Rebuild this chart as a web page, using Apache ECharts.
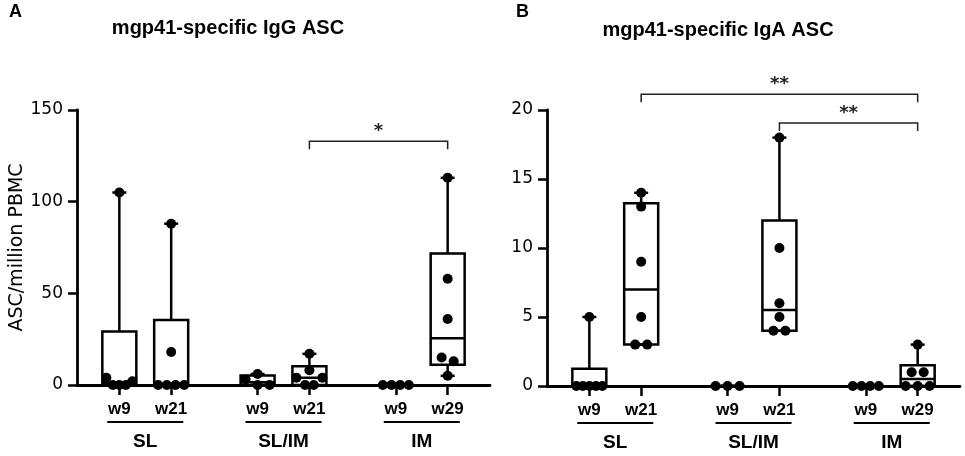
<!DOCTYPE html>
<html>
<head>
<meta charset="utf-8">
<script src="https://cdn.jsdelivr.net/npm/echarts@6/dist/echarts.min.js"></script>
<style>html,body{margin:0;padding:0;background:#fff;}#c{width:965px;height:456px;}</style>
</head>
<body>
<div id="c"></div>
<script>
// ---- data ----
const groupNames = ['SL', 'SL/IM', 'IM'];
const timeLabels = ['w9', 'w21', 'w9', 'w21', 'w9', 'w29'];

// IgG ASC per million PBMC (panel A)
const igG_SL_w9    = [0, 0, 0, 2, 4, 105];
const igG_SL_w21   = [0, 0, 0, 0, 18, 88];
const igG_SLIM_w9  = [0, 0, 3, 6];
const igG_SLIM_w21 = [0, 0, 4, 4, 8, 17];
const igG_IM_w9    = [0, 0, 0, 0];
const igG_IM_w29   = [5, 13, 15, 36, 58, 113];

// IgA ASC per million PBMC (panel B)
const igA_SL_w9    = [0, 0, 0, 0, 0, 5];
const igA_SL_w21   = [3, 3, 5, 9, 13, 14];
const igA_SLIM_w9  = [0, 0, 0];
const igA_SLIM_w21 = [4, 4, 5, 6, 10, 18];
const igA_IM_w9    = [0, 0, 0, 0];
const igA_IM_w29   = [0, 0, 0, 1, 1, 3];

// y-axis ticks
const yTicksA = [0, 50, 100, 150];
const yTicksB = [0, 5, 10, 15, 20];

// significance brackets: [fromGroup, fromTime, toGroup, toTime, height, text]
const bracketsA = [[1, 1, 2, 1, 133, '*']];
const bracketsB = [[0, 1, 2, 1, 21.15, '**'], [1, 1, 2, 1, 19.05, '**']];

// ---- helpers ----
const setsA = [igG_SL_w9, igG_SL_w21, igG_SLIM_w9, igG_SLIM_w21, igG_IM_w9, igG_IM_w29];
const setsB = [igA_SL_w9, igA_SL_w21, igA_SLIM_w9, igA_SLIM_w21, igA_IM_w9, igA_IM_w29];
const xPos = (g, t) => g * 8 + t * 3;
const tickPositions = [];
for (let g = 0; g < 3; g++) for (let t = 0; t < 2; t++) tickPositions.push(xPos(g, t));

function pct(sorted, p) {
  const n = sorted.length;
  const pos = p * (n + 1);
  if (pos <= 1) return sorted[0];
  if (pos >= n) return sorted[n - 1];
  const lo = Math.floor(pos);
  const f = pos - lo;
  return sorted[lo - 1] + f * (sorted[lo] - sorted[lo - 1]);
}
function stats(vals) {
  const s = vals.slice().sort((a, b) => a - b);
  return { min: s[0], q1: pct(s, 0.25), med: pct(s, 0.5), q3: pct(s, 0.75), max: s[s.length - 1] };
}

const FONT_AX = '"DejaVu Sans", sans-serif';
const FONT_B = '"Liberation Sans", sans-serif';
const LW = 2.5;

function boxSeries(sets, gi) {
  return {
    type: 'custom', xAxisIndex: gi, yAxisIndex: gi, clip: false, silent: true,
    data: sets.map((s, i) => [xPos(Math.floor(i / 2), i % 2), Math.max.apply(null, s)]),
    encode: { x: 0, y: 1 },
    renderItem: function (params, api) {
      const i = params.dataIndex;
      const xp = xPos(Math.floor(i / 2), i % 2);
      const st = stats(sets[i]);
      const P = v => api.coord([xp, v]);
      const cx = P(0)[0];
      const yMin = P(st.min)[1], yQ1 = P(st.q1)[1], yMed = P(st.med)[1], yQ3 = P(st.q3)[1], yMax = P(st.max)[1];
      const bw = 34, cap = 14;
      const ls = { stroke: '#000', lineWidth: LW, fill: 'none' };
      const ch = [];
      ch.push({ type: 'line', shape: { x1: cx, y1: yQ3, x2: cx, y2: yMax }, style: ls });
      ch.push({ type: 'line', shape: { x1: cx, y1: yQ1, x2: cx, y2: yMin }, style: ls });
      ch.push({ type: 'line', shape: { x1: cx - cap / 2, y1: yMax, x2: cx + cap / 2, y2: yMax }, style: ls });
      ch.push({ type: 'line', shape: { x1: cx - cap / 2, y1: yMin, x2: cx + cap / 2, y2: yMin }, style: ls });
      ch.push({ type: 'rect', shape: { x: cx - bw / 2, y: yQ3, width: bw, height: Math.max(0, yQ1 - yQ3) }, style: ls });
      ch.push({ type: 'line', shape: { x1: cx - bw / 2, y1: yMed, x2: cx + bw / 2, y2: yMed }, style: ls });
      // beeswarm-like dots
      const pts = sets[i].slice().sort((a, b) => a - b).map(v => ({ v: v, y: P(v)[1] }));
      const clusters = [];
      pts.forEach(p => {
        const last = clusters[clusters.length - 1];
        if (last && Math.abs(last[0].y - p.y) < 8) last.push(p); else clusters.push([p]);
      });
      clusters.forEach(cl => {
        const k = cl.length;
        const sp = k > 1 ? Math.min(12, 26 / (k - 1)) : 0;
        const desc = cl.slice().sort((a, b) => b.v - a.v);
        const slots = [];
        let l = 0, r = k - 1, left = true;
        while (l <= r) { if (left) slots.push(l++); else slots.push(r--); left = !left; }
        desc.forEach((p, j) => {
          const off = (slots[j] - (k - 1) / 2) * sp;
          ch.push({ type: 'circle', shape: { cx: cx + off, cy: p.y, r: 5 }, style: { fill: '#000' } });
        });
      });
      return { type: 'group', children: ch };
    }
  };
}

function groupSeries(gi) {
  return {
    type: 'custom', xAxisIndex: gi, yAxisIndex: gi, clip: false, silent: true,
    data: groupNames.map((n, g) => [xPos(g, 0), 0]),
    encode: { x: 0, y: 1 },
    renderItem: function (params, api) {
      const g = params.dataIndex;
      const a = api.coord([xPos(g, 0), 0]);
      const b = api.coord([xPos(g, 1), 0]);
      const c = (a[0] + b[0]) / 2;
      return {
        type: 'group', children: [
          { type: 'line', shape: { x1: c - 38, y1: a[1] + 37, x2: c + 38, y2: a[1] + 37 }, style: { stroke: '#000', lineWidth: 2 } },
          { type: 'text', style: { text: groupNames[g], x: c, y: a[1] + 57, font: 'bold 19px ' + FONT_B, fill: '#000', align: 'center', verticalAlign: 'middle', textAlign: 'center', textVerticalAlign: 'middle' } }
        ]
      };
    }
  };
}

function bracketSeries(brs, gi) {
  return {
    type: 'custom', xAxisIndex: gi, yAxisIndex: gi, clip: false, silent: true,
    data: brs.map(b => [xPos(b[0], b[1]), b[4]]),
    encode: { x: 0, y: 1 },
    renderItem: function (params, api) {
      const b = brs[params.dataIndex];
      const p1 = api.coord([xPos(b[0], b[1]), b[4]]);
      const p2 = api.coord([xPos(b[2], b[3]), b[4]]);
      const st = { stroke: '#222', lineWidth: 1.5, fill: 'none' };
      return {
        type: 'group', children: [
          { type: 'polyline', shape: { points: [[p1[0], p1[1] + 8], [p1[0], p1[1]], [p2[0], p2[1]], [p2[0], p2[1] + 8]] }, style: st },
          { type: 'text', style: { text: b[5], x: (p1[0] + p2[0]) / 2, y: p1[1] - 1, font: 'bold 18px ' + FONT_AX, fill: '#222', align: 'center', verticalAlign: 'bottom', textAlign: 'center', textVerticalAlign: 'bottom' } }
        ]
      };
    }
  };
}

function xAxis(gi) {
  return {
    type: 'value', gridIndex: gi, min: -2.45, max: 21.45,
    splitLine: { show: false },
    axisLine: { show: true, onZero: false, lineStyle: { color: '#000', width: 2.8 } },
    axisTick: { show: true, customValues: tickPositions, length: 10, lineStyle: { color: '#000', width: LW } },
    axisLabel: {
      show: true, customValues: tickPositions, margin: 16,
      formatter: v => timeLabels[tickPositions.indexOf(Math.round(v))] || '',
      fontFamily: FONT_B, fontWeight: 'bold', fontSize: 17, color: '#000'
    }
  };
}
function yAxis(gi, ticks, name) {
  return {
    type: 'value', gridIndex: gi, min: ticks[0], max: ticks[ticks.length - 1], interval: ticks[1] - ticks[0],
    name: name, nameLocation: 'middle', nameGap: 50,
    nameTextStyle: { fontFamily: FONT_AX, fontSize: 19, color: '#000' },
    splitLine: { show: false },
    axisLine: { show: true, onZero: false, lineStyle: { color: '#000', width: 2.8 } },
    axisTick: { show: true, length: 9, lineStyle: { color: '#000', width: LW } },
    axisLabel: { margin: 14, fontFamily: FONT_AX, fontSize: 17, color: '#000' }
  };
}

const chart = echarts.init(document.getElementById('c'), null, { renderer: 'canvas' });
chart.setOption({
  animation: false,
  backgroundColor: '#fff',
  grid: [
    { left: 77, top: 110, width: 413, height: 275 },
    { left: 547, top: 110, width: 413, height: 276 }
  ],
  xAxis: [xAxis(0), xAxis(1)],
  yAxis: [yAxis(0, yTicksA, 'ASC/million PBMC'), yAxis(1, yTicksB, '')],
  graphic: [
    { type: 'text', x: 9, y: 3, style: { text: 'A', font: 'bold 18px ' + FONT_B, fill: '#000' } },
    { type: 'text', x: 516, y: 3, style: { text: 'B', font: 'bold 18px ' + FONT_B, fill: '#000' } },
    { type: 'text', x: 228, y: 28, style: { text: 'mgp41-specific IgG ASC', font: 'bold 20px ' + FONT_B, fill: '#000', textAlign: 'center', textVerticalAlign: 'middle', align: 'center', verticalAlign: 'middle' } },
    { type: 'text', x: 718, y: 30, style: { text: 'mgp41-specific IgA ASC', font: 'bold 20px ' + FONT_B, fill: '#000', textAlign: 'center', textVerticalAlign: 'middle', align: 'center', verticalAlign: 'middle' } }
  ],
  series: [
    boxSeries(setsA, 0), boxSeries(setsB, 1),
    groupSeries(0), groupSeries(1),
    bracketSeries(bracketsA, 0), bracketSeries(bracketsB, 1)
  ]
});
</script>
</body>
</html>
